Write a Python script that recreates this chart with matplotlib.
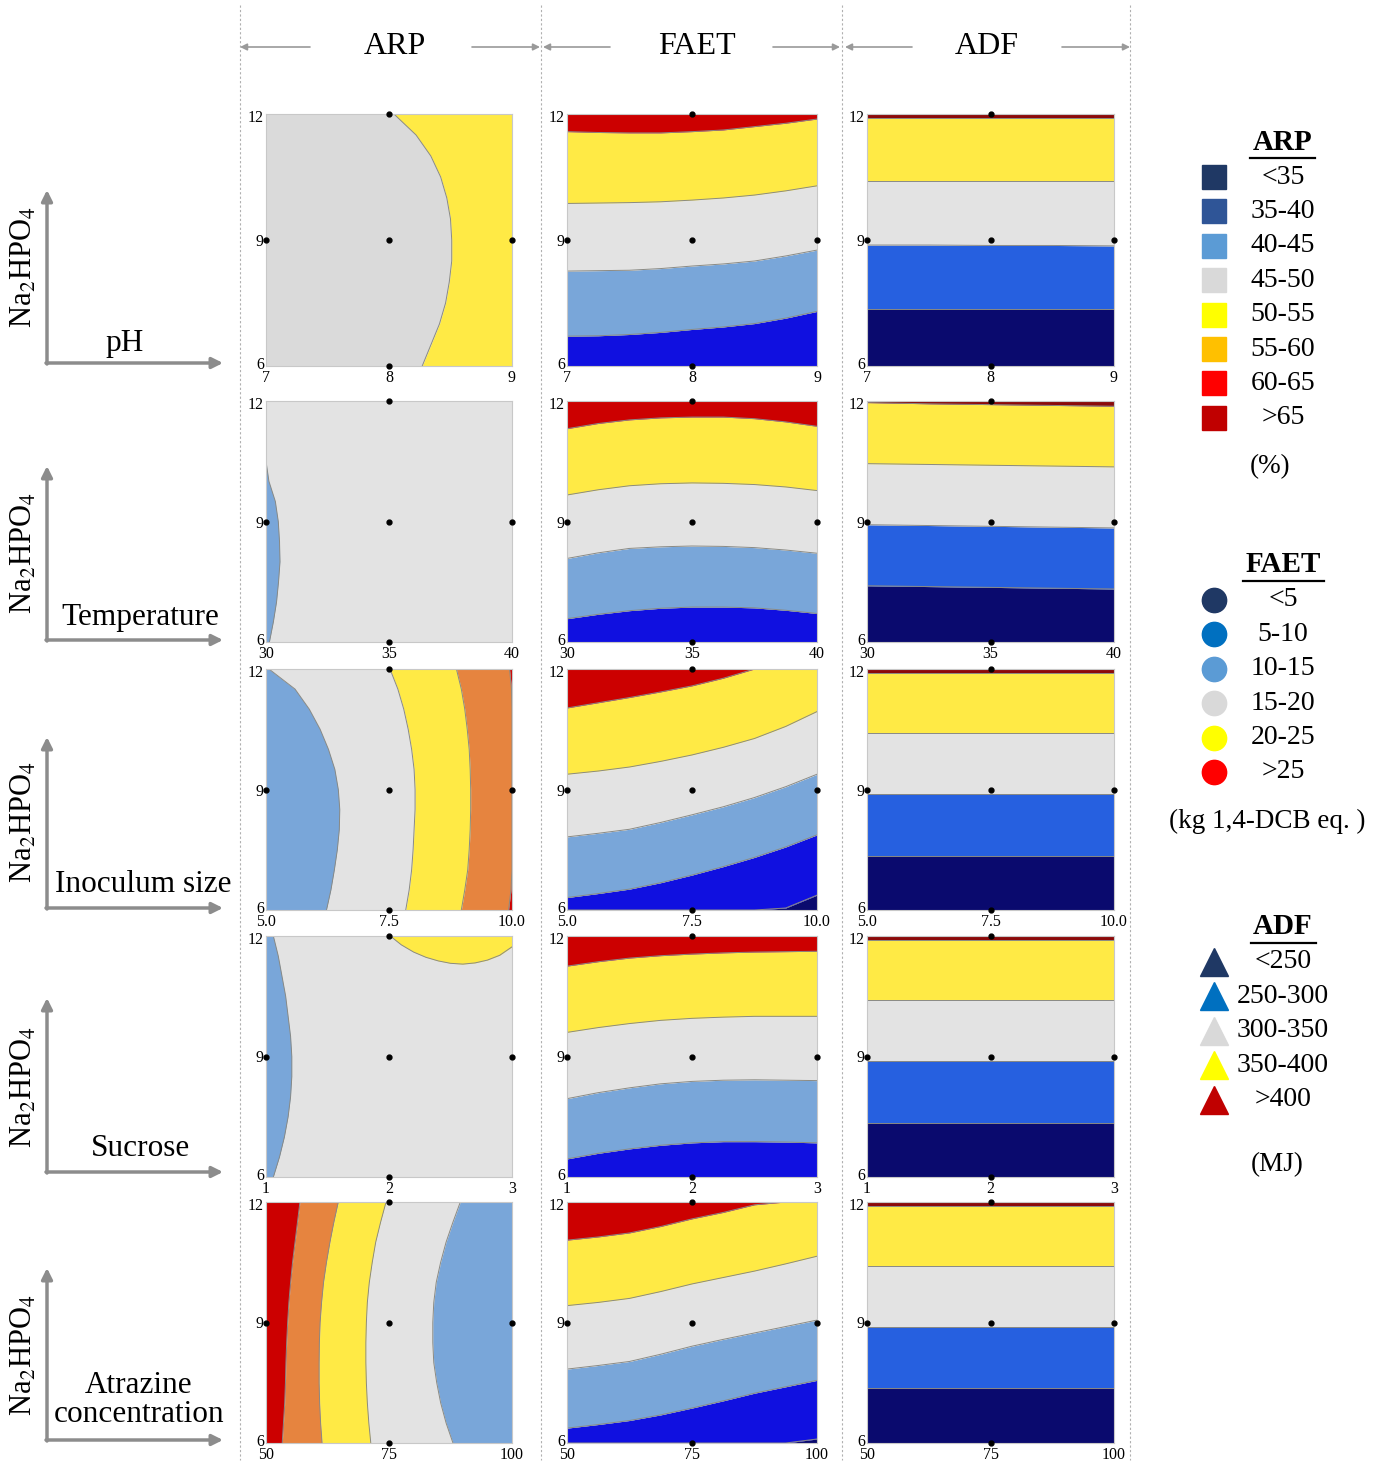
import numpy as np
import matplotlib.pyplot as plt
import matplotlib.transforms as mtransforms

plt.rcParams['font.family'] = ['Liberation Serif', 'DejaVu Serif']
plt.rcParams['mathtext.fontset'] = 'stix'

W, H = 1381, 1468

# ---- factors (rows) ----
factors = ["pH", "Temperature", "Inoculum size", "Sucrose", "Atrazine\nconcentration"]
factor_ticks = [[7, 8, 9], [30, 35, 40], [5.0, 7.5, 10.0], [1, 2, 3], [50, 75, 100]]
factor_ticklabels = [["7", "8", "9"], ["30", "35", "40"], ["5.0", "7.5", "10.0"],
                     ["1", "2", "3"], ["50", "75", "100"]]
factor_x = [[7, 7.5, 8, 8.5, 9], [30, 32.5, 35, 37.5, 40], [5.0, 6.25, 7.5, 8.75, 10.0],
            [1, 1.5, 2, 2.5, 3], [50, 62.5, 75, 87.5, 100]]
faet_x = [[7, 7.25, 7.5, 7.75, 8, 8.25, 8.5, 8.75, 9],
          [30, 31.25, 32.5, 33.75, 35, 36.25, 37.5, 38.75, 40],
          [5.0, 5.625, 6.25, 6.875, 7.5, 8.125, 8.75, 9.375, 10.0],
          [1, 1.25, 1.5, 1.75, 2, 2.25, 2.5, 2.75, 3],
          [50, 56.25, 62.5, 68.75, 75, 81.25, 87.5, 93.75, 100]]
na_ticks = [6, 9, 12]
na_y = [6, 6.5, 7, 7.5, 8, 8.5, 9, 9.5, 10, 10.5, 11, 11.5, 12]

# colours of the response surfaces
red = '#cc0000'
orange = '#e6843f'
yellow = '#ffea45'
grey = '#e3e3e3'
grey1 = '#dadada'
lblue = '#79a6d9'
blue = '#1010e0'
navy = '#0a0a6e'
adf_blue = '#2660e0'
dred = '#8b0a0a'
line_c = '#8a8a84'

# ---- ARP: band boundaries (x value of factor at Na2HPO4 = na_y), left to right ----
arp_bounds = [
    [[8.27, 8.34, 8.41, 8.46, 8.49, 8.51, 8.51, 8.50, 8.47, 8.42, 8.34, 8.22, 8.04]],
    [[30.14, 30.30, 30.43, 30.51, 30.57, 30.55, 30.50, 30.38, 30.12, 30.0, 30.0, 30.0, 30.0]],
    [[6.23, 6.32, 6.39, 6.45, 6.49, 6.50, 6.47, 6.40, 6.27, 6.10, 5.88, 5.59, 5.06],
     [7.84, 7.91, 7.96, 7.99, 8.01, 8.03, 8.03, 8.01, 7.96, 7.89, 7.80, 7.68, 7.52],
     [8.97, 9.04, 9.10, 9.13, 9.15, 9.16, 9.16, 9.15, 9.13, 9.09, 9.04, 8.97, 8.87],
     [9.93, 9.98, 10.0, 10.0, 10.0, 10.0, 10.0, 10.0, 10.0, 10.0, 10.0, 9.99, 9.95]],
    [[1.06, 1.11, 1.15, 1.18, 1.20, 1.21, 1.21, 1.20, 1.18, 1.16, 1.13, 1.10, 1.06]],
    [[53.3, 53.55, 53.8, 53.95, 54.05, 54.2, 54.4, 54.65, 55.0, 55.4, 55.9, 56.4, 56.9],
     [61.4, 61.1, 60.9, 60.8, 60.8, 60.85, 61.0, 61.3, 61.7, 62.3, 63.0, 63.8, 64.7],
     [71.3, 70.9, 70.6, 70.4, 70.3, 70.3, 70.4, 70.6, 71.0, 71.6, 72.3, 73.3, 74.4],
     [88.0, 86.6, 85.5, 84.7, 84.1, 83.9, 83.9, 84.1, 84.6, 85.5, 86.6, 88.0, 89.5]],
]
arp_colors = [
    [grey1, yellow],
    [lblue, grey],
    [lblue, grey, yellow, orange, red],
    [lblue, grey],
    [red, orange, yellow, grey, lblue],
]
# yellow pocket at the top of the sucrose panel
sucrose_bowl_x = [2.01, 2.1, 2.2, 2.3, 2.4, 2.5, 2.6, 2.7, 2.8, 2.9, 3.0]
sucrose_bowl_y = [12.0, 11.78, 11.6, 11.47, 11.38, 11.32, 11.3, 11.33, 11.4, 11.52, 11.73]

# ---- FAET: band boundaries (Na2HPO4 value at faet_x), bottom to top ----
faet_bounds = [
    [[6.71, 6.72, 6.75, 6.80, 6.87, 6.93, 7.01, 7.14, 7.30],
     [8.26, 8.27, 8.28, 8.32, 8.38, 8.43, 8.50, 8.62, 8.76],
     [9.87, 9.88, 9.89, 9.91, 9.95, 10.0, 10.07, 10.17, 10.29],
     [11.58, 11.56, 11.55, 11.55, 11.58, 11.62, 11.70, 11.78, 11.88]],
    [[6.58, 6.69, 6.78, 6.84, 6.87, 6.87, 6.85, 6.79, 6.71],
     [8.08, 8.22, 8.33, 8.37, 8.39, 8.38, 8.35, 8.29, 8.21],
     [9.66, 9.79, 9.89, 9.94, 9.96, 9.95, 9.92, 9.86, 9.77],
     [11.31, 11.44, 11.53, 11.58, 11.60, 11.60, 11.56, 11.48, 11.37]],
    [[6.0, 6.0, 6.0, 6.0, 6.0, 6.0, 6.0, 6.05, 6.37],
     [6.31, 6.41, 6.52, 6.68, 6.87, 7.08, 7.31, 7.57, 7.87],
     [7.82, 7.91, 8.01, 8.18, 8.37, 8.57, 8.80, 9.07, 9.38],
     [9.38, 9.46, 9.56, 9.70, 9.86, 10.05, 10.27, 10.57, 10.94],
     [11.03, 11.16, 11.29, 11.43, 11.58, 11.77, 12.0, 12.0, 12.0]],
    [[6.45, 6.59, 6.70, 6.79, 6.85, 6.88, 6.88, 6.87, 6.85],
     [7.95, 8.10, 8.22, 8.32, 8.38, 8.41, 8.42, 8.41, 8.40],
     [9.60, 9.72, 9.82, 9.90, 9.95, 9.98, 10.0, 10.0, 10.0],
     [11.25, 11.36, 11.45, 11.51, 11.55, 11.58, 11.60, 11.61, 11.62]],
    [[6.0, 6.0, 6.0, 6.0, 6.0, 6.0, 6.0, 6.0, 6.1],
     [6.37, 6.46, 6.56, 6.70, 6.87, 7.05, 7.24, 7.40, 7.56],
     [7.84, 7.93, 8.03, 8.21, 8.41, 8.58, 8.74, 8.90, 9.06],
     [9.42, 9.50, 9.60, 9.77, 9.96, 10.12, 10.28, 10.46, 10.65],
     [11.05, 11.13, 11.23, 11.39, 11.58, 11.74, 11.93, 12.0, 12.0]],
]
faet_colors = [
    [blue, lblue, grey, yellow, red],
    [blue, lblue, grey, yellow, red],
    [navy, blue, lblue, grey, yellow, red],
    [blue, lblue, grey, yellow, red],
    [navy, blue, lblue, grey, yellow, red],
]

# ---- ADF: band boundaries, bottom to top ----
adf_bounds = [
    [[7.36, 7.36, 7.36, 7.36, 7.36], [8.88, 8.88, 8.87, 8.87, 8.86],
     [10.40, 10.40, 10.40, 10.40, 10.40], [11.91, 11.91, 11.91, 11.91, 11.91]],
    [[7.40, 7.38, 7.36, 7.34, 7.32], [8.92, 8.90, 8.88, 8.86, 8.84],
     [10.44, 10.42, 10.40, 10.38, 10.36], [11.96, 11.93, 11.91, 11.89, 11.87]],
    [[7.35, 7.35, 7.35, 7.35, 7.35], [8.90, 8.90, 8.90, 8.90, 8.90],
     [10.40, 10.40, 10.40, 10.40, 10.40], [11.90, 11.90, 11.90, 11.90, 11.90]],
    [[7.35, 7.35, 7.35, 7.35, 7.35], [8.90, 8.90, 8.90, 8.90, 8.90],
     [10.40, 10.40, 10.40, 10.40, 10.40], [11.90, 11.90, 11.90, 11.90, 11.90]],
    [[7.36, 7.36, 7.36, 7.36, 7.36], [8.90, 8.90, 8.90, 8.90, 8.90],
     [10.40, 10.40, 10.40, 10.40, 10.40], [11.90, 11.90, 11.90, 11.90, 11.90]],
]
adf_colors = [navy, adf_blue, grey, yellow, dred]

# ---- legends ----
arp_leg_labels = ["<35", "35-40", "40-45", "45-50", "50-55", "55-60", "60-65", ">65"]
arp_leg_colors = ['#1f3864', '#2f5597', '#5b9bd5', '#d9d9d9', '#ffff00', '#ffc000', '#ff0000', '#c00000']
faet_leg_labels = ["<5", "5-10", "10-15", "15-20", "20-25", ">25"]
faet_leg_colors = ['#1f3864', '#0070c0', '#5b9bd5', '#d9d9d9', '#ffff00', '#ff0000']
adf_leg_labels = ["<250", "250-300", "300-350", "350-400", ">400"]
adf_leg_colors = ['#1f3864', '#0070c0', '#d9d9d9', '#ffff00', '#c00000']

col_x = [(266, 512), (567, 817), (867, 1114)]
row_y = [(114, 366), (401, 642), (669, 910), (936, 1177), (1202, 1443)]


def draw_hbands(ax, x, bounds, colors):
    edges = [[6] * len(x)] + bounds + [[12] * len(x)]
    for i, c in enumerate(colors):
        ax.fill_between(x, edges[i], edges[i + 1], color=c, lw=0)
    for b in bounds:
        ax.plot(x, b, color=line_c, lw=0.7)


def draw_vbands(ax, y, bounds, colors, lo, hi):
    edges = [[lo] * len(y)] + bounds + [[hi] * len(y)]
    for i, c in enumerate(colors):
        ax.fill_betweenx(y, edges[i], edges[i + 1], color=c, lw=0)
    for b in bounds:
        ax.plot(b, y, color=line_c, lw=0.7)


fig = plt.figure(figsize=(W / 100, H / 100), dpi=100)
ov = fig.add_axes([0, 0, 1, 1])
ov.set_xlim(0, W)
ov.set_ylim(H, 0)
ov.axis('off')

up = mtransforms.ScaledTranslation(0, 3 / 100, fig.dpi_scale_trans)
down = mtransforms.ScaledTranslation(0, -2 / 100, fig.dpi_scale_trans)

for r in range(5):
    ticks = factor_ticks[r]
    lo, hi = ticks[0], ticks[-1]
    y0, y1 = row_y[r]
    axs = []
    for c in range(3):
        x0, x1 = col_x[c]
        ax = fig.add_axes([x0 / W, 1 - y1 / H, (x1 - x0) / W, (y1 - y0) / H])
        axs.append(ax)
    # ARP
    draw_vbands(axs[0], na_y, arp_bounds[r], arp_colors[r], lo, hi)
    if r == 3:
        axs[0].fill_between(sucrose_bowl_x, sucrose_bowl_y, 12, color=yellow, lw=0)
        axs[0].plot(sucrose_bowl_x, sucrose_bowl_y, color=line_c, lw=0.7)
    # FAET
    draw_hbands(axs[1], faet_x[r], faet_bounds[r], faet_colors[r])
    # ADF
    draw_hbands(axs[2], factor_x[r], adf_bounds[r], adf_colors)
    for ax in axs:
        ax.set_xlim(lo, hi)
        ax.set_ylim(6, 12)
        ax.set_xticks(ticks)
        ax.set_xticklabels(factor_ticklabels[r])
        ax.set_yticks(na_ticks)
        ax.set_yticklabels([str(v) for v in na_ticks])
        ax.tick_params(length=0, labelsize=11.5)
        ax.tick_params(axis='x', pad=3)
        ax.tick_params(axis='y', pad=1.5)
        ylabs = ax.get_yticklabels()
        ylabs[0].set_transform(ylabs[0].get_transform() + up)
        ylabs[-1].set_transform(ylabs[-1].get_transform() + down)
        for s in ax.spines.values():
            s.set_color('#c8c8c8')
            s.set_linewidth(0.8)
        ax.plot([lo, ticks[1], hi, ticks[1], ticks[1]], [9, 9, 9, 6, 12], 'o',
                color='black', ms=3.5, clip_on=False, zorder=6)

    # left axis arrows and labels
    yb = [363, 640, 908, 1172, 1440][r]
    yt = [190, 466, 737, 998, 1268][r]
    arr = dict(arrowstyle='-|>', color='#8c8c8c', lw=2.5, mutation_scale=16,
               shrinkA=0, shrinkB=0)
    ov.annotate('', xy=(47, yt), xytext=(47, yb + 1), arrowprops=arr)
    ov.annotate('', xy=(223, yb), xytext=(46, yb), arrowprops=arr)
    ov.text(24, [267, 553, 822, 1087, 1355][r], r'Na$_2$HPO$_4$', rotation=90,
            ha='center', va='center', fontsize=22)
    lab_y = [343, 617, 885, 1148, 1400][r]
    lab_x = [125, 140, 143, 141, 139][r]
    ov.text(lab_x, lab_y, factors[r], ha='center', va='center', fontsize=22.5,
            linespacing=1.0)

# column headers with arrows and dashed separators
heads = ["ARP", "FAET", "ADF"]
head_x = [395, 697, 987]
head_arrows = [(310, 240, 472, 540), (610, 543, 773, 840), (912, 845, 1062, 1130)]
for h, hx, (a0, a1, b0, b1) in zip(heads, head_x, head_arrows):
    ov.text(hx, 47, h, ha='center', va='center', fontsize=23)
    harr = dict(arrowstyle='-|>', color='#9a9a9a', lw=1.2, mutation_scale=10,
                shrinkA=0, shrinkB=0)
    ov.annotate('', xy=(a1, 47), xytext=(a0, 47), arrowprops=harr)
    ov.annotate('', xy=(b1, 47), xytext=(b0, 47), arrowprops=harr)
for sx in [240, 541, 842, 1130]:
    ov.plot([sx, sx], [5, 1460], color='#b0b0b0', lw=0.8, ls=(0, (2, 2)))

# legends
def legend_block(title, ty, labels, colors, marker, ms, first_y, unit, uy, ux, ul):
    ov.text(1283, ty, title, ha='center', va='center', fontsize=21, fontweight='bold')
    ov.plot(ul, [ty + 16, ty + 16], color='black', lw=1.6)
    for i, (lab, col) in enumerate(zip(labels, colors)):
        yy = first_y + 34.4 * i
        ov.plot(1214, yy, marker=marker, ms=ms, color=col, ls='')
        ov.text(1283, yy, lab, ha='center', va='center', fontsize=20)
    ov.text(ux, uy, unit, ha='center', va='center', fontsize=19.5)


legend_block("ARP", 142, arp_leg_labels, arp_leg_colors, 's', 17.5, 177, "(%)", 467, 1270,
             [1250, 1315])
legend_block("FAET", 565, faet_leg_labels, faet_leg_colors, 'o', 17.5, 600,
             "(kg 1,4-DCB eq. )", 821, 1267, [1243, 1324])
legend_block("ADF", 927, adf_leg_labels, adf_leg_colors, '^', 19.5, 962, "(MJ)", 1165, 1277,
             [1251, 1316])

fig.savefig('out.png', dpi=100)
